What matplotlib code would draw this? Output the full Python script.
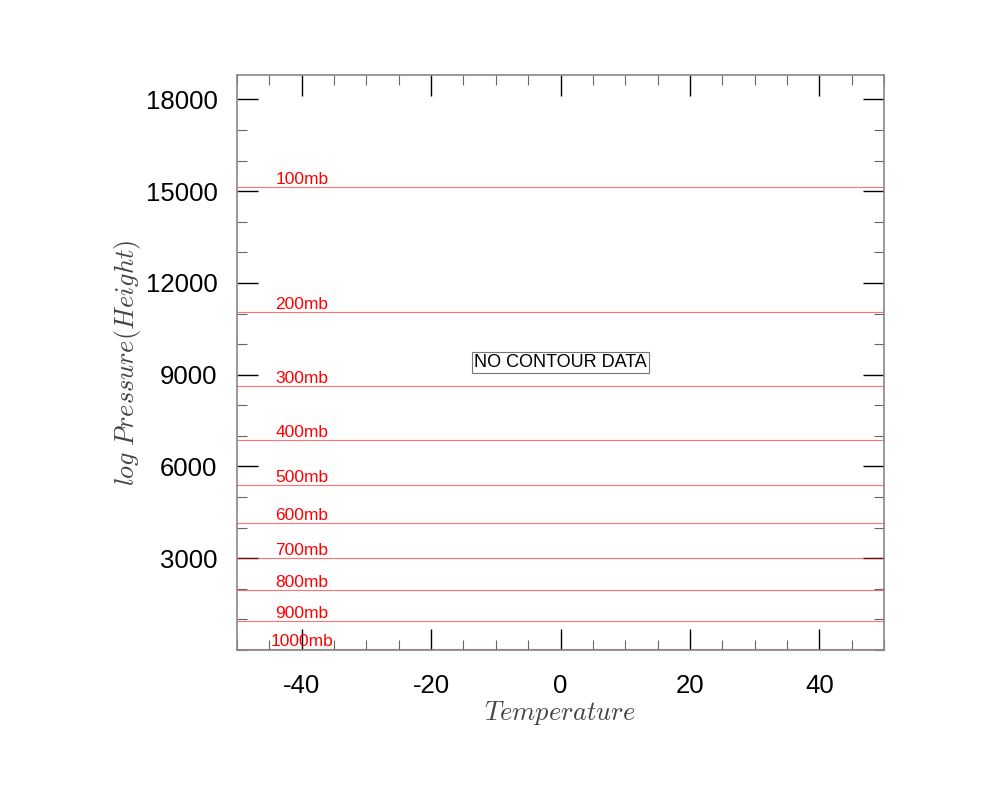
import matplotlib
matplotlib.use("Agg")
import matplotlib.pyplot as plt
from matplotlib.ticker import MultipleLocator, FixedLocator

plt.rcParams.update(
    {
        "font.family": ["Liberation Sans", "DejaVu Sans"],
        "mathtext.fontset": "cm",
        "axes.unicode_minus": False,
    }
)

# pressure levels and the heights they sit at
levels = ["100mb", "200mb", "300mb", "400mb", "500mb", "600mb", "700mb", "800mb", "900mb", "1000mb"]
heights = [15130, 11050, 8640, 6850, 5380, 4140, 3000, 1960, 950, 20]
label_x = -40

x_range = [-50, 50]
y_range = [0, 18800]
y_major = [3000, 6000, 9000, 12000, 15000, 18000]

fig = plt.figure(figsize=(10, 8), dpi=100)
ax = fig.add_axes([0.237, 0.1875, 0.647, 0.7188])

for name, h in zip(levels, heights):
    ax.axhline(h, color="red", alpha=0.55, linewidth=0.8)
    ax.text(label_x, h, name, color="red", ha="center", va="bottom",
            fontsize=12.5, clip_on=False)

ax.text(0.5, 0.5, "NO CONTOUR DATA", transform=ax.transAxes, ha="center", va="center",
        fontsize=13, bbox=dict(boxstyle="square,pad=0.12", facecolor="white",
                               edgecolor="#777777", linewidth=0.8))

ax.set_xlim(*x_range)
ax.set_ylim(*y_range)
ax.xaxis.set_major_locator(MultipleLocator(20))
ax.xaxis.set_minor_locator(MultipleLocator(5))
ax.yaxis.set_major_locator(FixedLocator(y_major))
ax.yaxis.set_minor_locator(MultipleLocator(1000))

ax.tick_params(which="both", direction="in", top=True, right=True, colors="black")
ax.tick_params(which="major", length=15, width=1.0, labelsize=18.5)
ax.tick_params(axis="x", which="major", pad=17)
ax.tick_params(axis="y", which="major", pad=14)
ax.tick_params(which="minor", length=7, width=0.8, color="#666666")
for s in ax.spines.values():
    s.set_color("#888888")
    s.set_linewidth(1.2)

ax.set_xlabel(r"$Temperature$", fontsize=19, color="#444444", labelpad=1)
ax.set_ylabel(r"$log\ Pressure(Height)$", fontsize=19, color="#444444", labelpad=2)

fig.savefig("out.png", dpi=100)
